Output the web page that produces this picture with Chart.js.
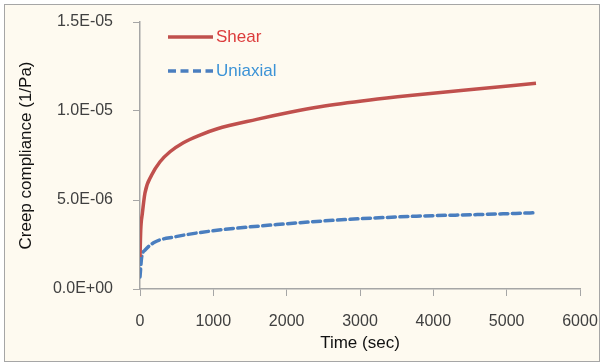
<!DOCTYPE html>
<html>
<head>
<meta charset="utf-8">
<script src="https://cdn.jsdelivr.net/npm/chart.js@4.4.1/dist/chart.umd.min.js"></script>
<style>
  html, body { margin: 0; padding: 0; background: #ffffff; }
  #wrap { width: 604px; height: 364px; }
</style>
</head>
<body>
<div id="wrap"><canvas id="creepChart" width="604" height="364"></canvas></div>
<script>
// Creep compliance measurements (time in s, compliance in 1/Pa)
const shearTime = [0, 10, 32, 68, 159, 273, 409, 591, 818, 1045, 1591, 2045, 2455, 3136, 3682, 4591, 5400];
const shearCompliance = [1.8e-6, 3.3e-6, 4.24e-6, 5.4e-6, 6.4e-6, 7.15e-6, 7.71e-6, 8.22e-6, 8.65e-6,
                         8.99e-6, 9.53e-6, 9.93e-6, 10.24e-6, 10.62e-6, 10.87e-6, 11.24e-6, 11.56e-6];

const uniaxialTime = [0, 23, 68, 205, 477, 977, 1864, 2795, 3773, 4600, 5380];
const uniaxialCompliance = [0.68e-6, 1.8e-6, 2.18e-6, 2.64e-6, 2.93e-6, 3.26e-6, 3.62e-6, 3.9e-6,
                            4.09e-6, 4.18e-6, 4.28e-6];

const xTicks = [0, 1000, 2000, 3000, 4000, 5000, 6000];
const yTicks = [0, 5e-6, 1e-5, 1.5e-5];

const seriesNames = ['Shear', 'Uniaxial'];
const legendTextColors = ['#dc3b3b', '#3c93d6'];

function toPoints(xs, ys) {
  return xs.map((x, i) => ({ x: x, y: ys[i] }));
}

// Excel-like scientific format, e.g. 1.5E-05
function sci(v) {
  if (v === 0) return '0.0E+00';
  const parts = v.toExponential(1).toUpperCase().split('E');
  const exp = parseInt(parts[1], 10);
  const sign = exp < 0 ? '-' : '+';
  return parts[0] + 'E' + sign + String(Math.abs(exp)).padStart(2, '0');
}

// keep the plot area fixed: ignore label overhang padding
function noOverhang(scale) {
  scale.paddingTop = 0;
  scale.paddingBottom = 0;
  scale.paddingLeft = 0;
  scale.paddingRight = 0;
}

// Frame and cream background
const framePlugin = {
  id: 'frame',
  beforeDraw(chart) {
    const ctx = chart.ctx;
    ctx.save();
    ctx.fillStyle = '#ffffff';
    ctx.fillRect(0, 0, chart.width, chart.height);
    ctx.fillStyle = '#fefaf0';
    ctx.fillRect(4.5, 4.5, chart.width - 9, chart.height - 7);
    ctx.strokeStyle = '#a6a6a6';
    ctx.lineWidth = 1;
    ctx.strokeRect(4.5, 4.5, chart.width - 9, chart.height - 7);
    ctx.restore();
  }
};

// Legend drawn inside the plot area, upper left
const insideLegend = {
  id: 'insideLegend',
  afterDraw(chart) {
    const ctx = chart.ctx;
    const rows = [37, 71];
    ctx.save();
    chart.data.datasets.forEach((ds, i) => {
      const y = rows[i];
      ctx.strokeStyle = ds.borderColor;
      ctx.lineWidth = ds.borderWidth;
      ctx.setLineDash(ds.borderDash || []);
      ctx.beginPath();
      ctx.moveTo(168, y);
      ctx.lineTo(213, y);
      ctx.stroke();
      ctx.setLineDash([]);
      ctx.fillStyle = legendTextColors[i];
      ctx.font = '17px "Liberation Sans", Arial, sans-serif';
      ctx.textBaseline = 'middle';
      ctx.fillText(ds.label, 216, y);
    });
    ctx.restore();
  }
};

const ctx = document.getElementById('creepChart').getContext('2d');

const creepChart = new Chart(ctx, {
  type: 'line',
  data: {
    datasets: [{
      label: seriesNames[0],
      data: toPoints(shearTime, shearCompliance),
      borderColor: '#c0504d',
      borderWidth: 3.5,
      pointRadius: 0,
      fill: false,
      cubicInterpolationMode: 'monotone'
    }, {
      label: seriesNames[1],
      data: toPoints(uniaxialTime, uniaxialCompliance),
      borderColor: '#4a7ebf',
      borderWidth: 3.5,
      borderDash: [8, 4.5],
      borderCapStyle: 'round',
      pointRadius: 0,
      fill: false,
      cubicInterpolationMode: 'monotone'
    }]
  },
  options: {
    responsive: false,
    animation: false,
    layout: { padding: { top: 22, right: 24, left: 10, bottom: 8 } },
    plugins: {
      legend: { display: false },
      tooltip: { enabled: false }
    },
    scales: {
      x: {
        type: 'linear',
        min: 0,
        max: 6000,
        afterBuildTicks(scale) {
          scale.ticks = xTicks.map(v => ({ value: v }));
        },
        afterFit(scale) {
          scale.height = 364 - 289 - 8;
          noOverhang(scale);
        },
        grid: {
          display: true,
          drawOnChartArea: false,
          drawTicks: true,
          tickLength: 7,
          color: '#a6a6a6'
        },
        border: { color: '#a6a6a6', width: 1.5 },
        ticks: {
          padding: 16,
          maxRotation: 0,
          color: '#404040',
          font: { family: '"Liberation Sans", Arial, sans-serif', size: 16 },
          callback: v => String(v)
        },
        title: {
          display: true,
          text: 'Time (sec)',
          color: '#111111',
          padding: { top: 0, bottom: 2 },
          font: { family: '"Liberation Sans", Arial, sans-serif', size: 17 }
        }
      },
      y: {
        type: 'linear',
        min: 0,
        max: 1.5e-5,
        afterBuildTicks(scale) {
          scale.ticks = yTicks.map(v => ({ value: v }));
        },
        afterFit(scale) {
          scale.width = 140 - 10;
          noOverhang(scale);
        },
        grid: {
          display: true,
          drawOnChartArea: false,
          drawTicks: true,
          tickLength: 7,
          color: '#a6a6a6'
        },
        border: { color: '#a6a6a6', width: 1.5 },
        ticks: {
          padding: 20,
          color: '#404040',
          font: { family: '"Liberation Sans", Arial, sans-serif', size: 16 },
          callback: v => sci(v)
        },
        title: {
          display: true,
          text: 'Creep compliance (1/Pa)',
          color: '#111111',
          padding: { top: 6, bottom: 0 },
          font: { family: '"Liberation Sans", Arial, sans-serif', size: 17 }
        }
      }
    }
  },
  plugins: [framePlugin, insideLegend]
});
</script>
</body>
</html>
